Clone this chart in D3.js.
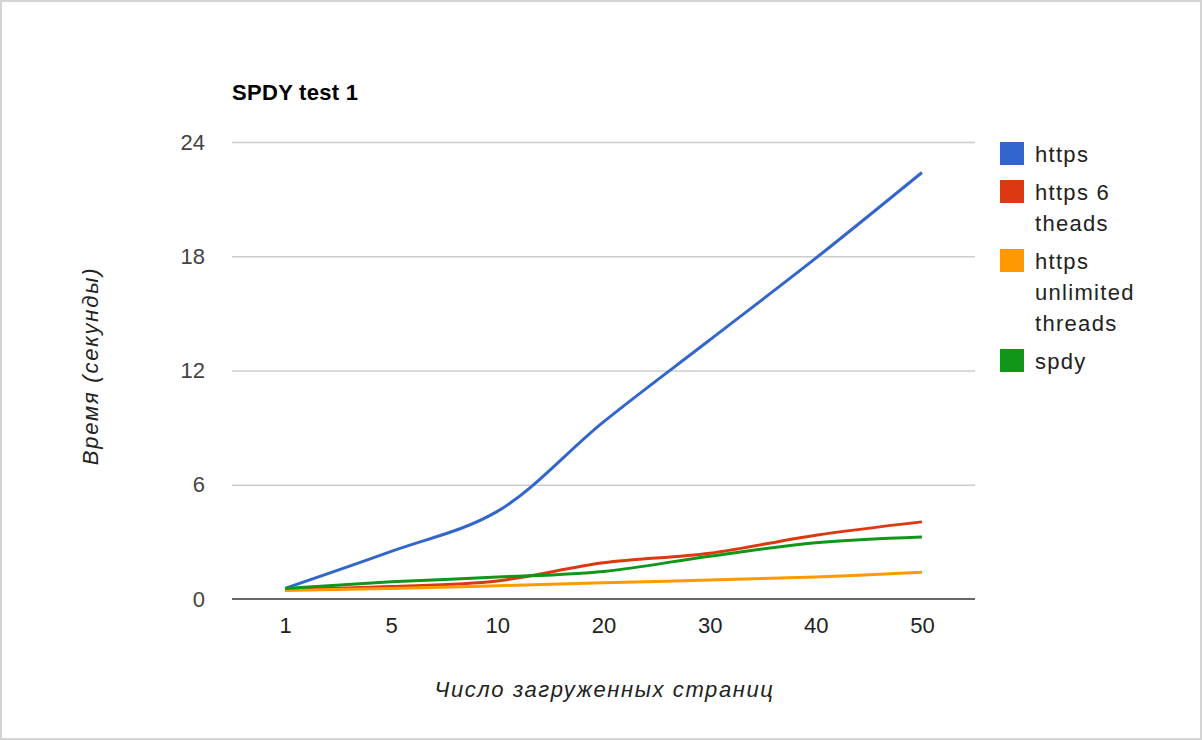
<!DOCTYPE html>
<html>
<head>
<meta charset="utf-8">
<script src="https://cdn.jsdelivr.net/npm/d3@7"></script>
<style>
  body { margin: 0; background: #fff; }
  text { font-family: "Liberation Sans", Arial, sans-serif; }
</style>
</head>
<body>
<script>
// data
var pages = ["1", "5", "10", "20", "30", "40", "50"];
var httpsTimes = [0.56, 2.5, 4.6, 9.3, 13.6, 17.9, 22.4];
var https6Times = [0.5, 0.65, 0.95, 1.9, 2.4, 3.35, 4.05];
var httpsUnlimTimes = [0.45, 0.55, 0.7, 0.85, 1.0, 1.15, 1.4];
var spdyTimes = [0.55, 0.9, 1.15, 1.45, 2.25, 2.95, 3.25];
var yTicks = [0, 6, 12, 18, 24];
var seriesNames = [["https"], ["https 6", "theads"], ["https", "unlimited", "threads"], ["spdy"]];
var seriesColors = ["#3366cc", "#dc3912", "#ff9900", "#109618"];
var seriesValues = [httpsTimes, https6Times, httpsUnlimTimes, spdyTimes];

var W = 1202, H = 740;
var plot = {left: 232, right: 975, top: 142, bottom: 599};

var svg = d3.select("body").append("svg")
    .attr("width", W)
    .attr("height", H);

// frame around the picture
svg.append("rect")
    .attr("x", 1).attr("y", 1)
    .attr("width", W - 2).attr("height", H - 2)
    .attr("fill", "#fff")
    .attr("stroke", "#d4d4d4")
    .attr("stroke-width", 2);

var x = d3.scalePoint().domain(pages).range([plot.left, plot.right]).padding(0.5);
var y = d3.scaleLinear().domain([0, 24]).range([plot.bottom, plot.top]);

// title
svg.append("text")
    .attr("x", plot.left)
    .attr("y", 100)
    .attr("font-size", "22px")
    .attr("font-weight", "bold")
    .attr("letter-spacing", "0.3px")
    .attr("fill", "#000")
    .text("SPDY test 1");

// Y axis + gridlines
var yAxis = svg.append("g")
    .attr("transform", "translate(" + plot.left + ",0)")
    .call(d3.axisLeft(y).tickValues(yTicks)
        .tickSize(-(plot.right - plot.left))
        .tickPadding(27));
yAxis.select(".domain").remove();
yAxis.selectAll("line").attr("stroke", "#cccccc").attr("stroke-width", 1.5);
yAxis.selectAll("text")
    .attr("font-size", "22px")
    .attr("fill", "#444")
    .style("font-family", "Liberation Sans, Arial, sans-serif");
yAxis.selectAll(".tick").filter(function(d) { return d === 0; }).select("line").remove();

// X axis
var xAxis = svg.append("g")
    .attr("transform", "translate(0," + plot.bottom + ")")
    .call(d3.axisBottom(x).tickSize(0).tickPadding(18));
xAxis.select(".domain").remove();
xAxis.selectAll("text")
    .attr("font-size", "22px")
    .attr("fill", "#222")
    .style("font-family", "Liberation Sans, Arial, sans-serif");

// baseline
svg.append("line")
    .attr("x1", plot.left).attr("x2", plot.right)
    .attr("y1", y(0)).attr("y2", y(0))
    .attr("stroke", "#666")
    .attr("stroke-width", 2);

// axis titles
svg.append("text")
    .attr("x", (plot.left + plot.right) / 2 + 1)
    .attr("y", 697)
    .attr("text-anchor", "middle")
    .attr("font-size", "22px")
    .attr("font-style", "italic")
    .attr("letter-spacing", "1.6px")
    .attr("fill", "#222")
    .text("Число загруженных страниц");

svg.append("text")
    .attr("transform", "translate(98,366) rotate(-90)")
    .attr("text-anchor", "middle")
    .attr("font-size", "22px")
    .attr("font-style", "italic")
    .attr("letter-spacing", "1.8px")
    .attr("fill", "#222")
    .text("Время (секунды)");

// lines
var line = d3.line()
    .x(function(d, i) { return x(pages[i]); })
    .y(function(d) { return y(d); })
    .curve(d3.curveCatmullRom.alpha(0.5));

for (let i = 0; i < seriesValues.length; i++) {
    svg.append("path")
        .datum(seriesValues[i])
        .attr("fill", "none")
        .attr("stroke", seriesColors[i])
        .attr("stroke-width", 3)
        .attr("d", line);
}

// legend
var lineH = 31;
var legY = 162;
for (let i = 0; i < seriesNames.length; i++) {
    svg.append("rect")
        .attr("x", 1000)
        .attr("y", legY - 20)
        .attr("width", 24)
        .attr("height", 23)
        .attr("fill", seriesColors[i]);
    var t = svg.append("text")
        .attr("x", 1035)
        .attr("y", legY)
        .attr("font-size", "22px")
        .attr("letter-spacing", "1.3px")
        .attr("fill", "#222");
    seriesNames[i].forEach(function(s, j) {
        t.append("tspan")
            .attr("x", 1035)
            .attr("y", legY + j * lineH)
            .text(s);
    });
    legY += seriesNames[i].length * lineH + 7;
}
</script>
</body>
</html>
